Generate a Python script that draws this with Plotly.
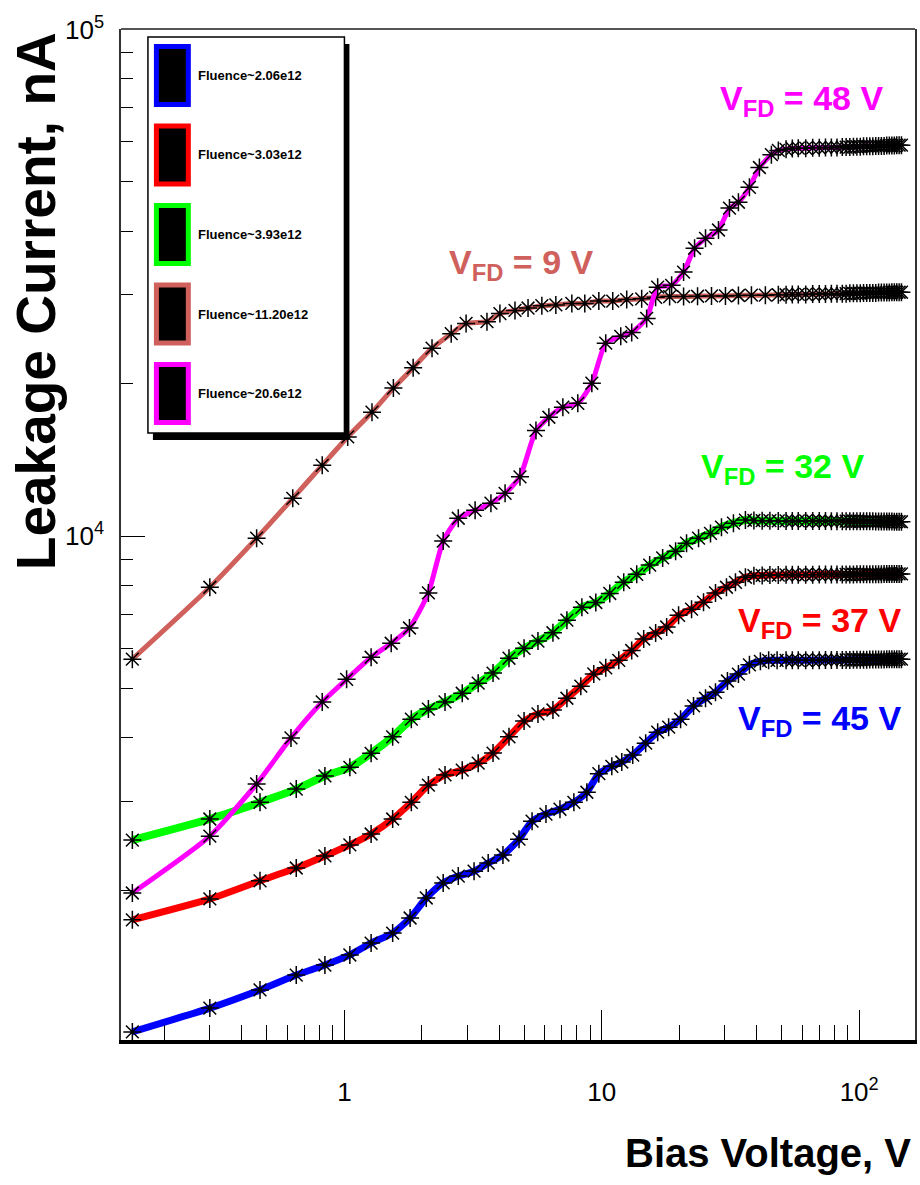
import plotly.graph_objects as go

# ---------------- data ----------------
SERIES_LABELS = ["Fluence~2.06e12", "Fluence~3.03e12", "Fluence~3.93e12",
                 "Fluence~11.20e12", "Fluence~20.6e12"]
SERIES_COLORS = ["#0000ff", "#ff0000", "#00ff00", "#d0605c", "#ff00ff"]
VFD_TEXT = ["V<sub>FD</sub> = 45 V", "V<sub>FD</sub> = 37 V", "V<sub>FD</sub> = 32 V",
            "V<sub>FD</sub> = 9 V", "V<sub>FD</sub> = 48 V"]

# Bias voltage (V) and leakage current (nA), rising part of each curve
V_206 = [0.15, 0.30, 0.47, 0.65, 0.84, 1.05, 1.27, 1.54, 1.80, 2.08, 2.42, 2.77, 3.19,
         3.62, 4.13, 4.77, 5.36, 6.07, 6.88, 7.79, 8.75, 9.74, 10.94, 11.96, 13.19,
         14.81, 16.49, 18.19, 20.24, 22.73, 25.30, 27.66, 30.78, 33.96, 37.47, 41.33,
         44.5, 48.0]
I_206 = [1052, 1172, 1273, 1362, 1425, 1492, 1575, 1648, 1765, 1933, 2070, 2135, 2183,
         2265, 2350, 2525, 2740, 2830, 2893, 2985, 3125, 3400, 3516, 3585, 3700,
         3905, 4105, 4200, 4355, 4625, 4790, 4920, 5180, 5345, 5575, 5665,
         5690, 5690]

V_303 = [0.15, 0.30, 0.47, 0.65, 0.84, 1.05, 1.27, 1.54, 1.82, 2.12, 2.46, 2.87, 3.31,
         3.78, 4.36, 4.99, 5.65, 6.46, 7.32, 8.29, 9.31, 10.36, 11.64, 13.07, 14.55,
         16.19, 17.87, 19.88, 22.33, 24.85, 27.66, 30.51, 33.07, 36.15, 39.0, 42.0,
         45.0, 48.5]
I_303 = [1750, 1925, 2090, 2215, 2340, 2460, 2585, 2767, 2985, 3228, 3381, 3455, 3566,
         3733, 4020, 4317, 4460, 4540, 4790, 5060, 5350, 5500, 5690, 5950, 6270,
         6440, 6620, 6980, 7180, 7410, 7730, 7930, 8110, 8300, 8360, 8370,
         8380, 8380]

V_393 = [0.15, 0.30, 0.47, 0.65, 0.84, 1.05, 1.27, 1.54, 1.82, 2.12, 2.46, 2.87, 3.31,
         3.78, 4.36, 4.99, 5.65, 6.46, 7.32, 8.37, 9.48, 10.74, 12.17, 13.67, 15.35,
         17.24, 19.36, 21.35, 23.77, 26.45, 29.18, 32.48, 36.15, 39.0, 42.0, 45.0, 48.5]
I_393 = [2515, 2767, 2985, 3170, 3365, 3500, 3730, 4020, 4355, 4560, 4710, 4900, 5130,
         5370, 5745, 6010, 6210, 6450, 6830, 7240, 7400, 7710, 8110, 8410, 8770,
         9060, 9340, 9690, 9910, 10130, 10420, 10610, 10760, 10740, 10730, 10730, 10720]

V_1120 = [0.15, 0.30, 0.456, 0.63, 0.82, 1.03, 1.28, 1.55, 1.85, 2.19, 2.60, 2.97, 3.58,
          4.02, 4.60, 5.17, 5.85, 6.63, 7.65, 8.59, 9.74, 11.03, 12.50, 14.29, 16.19,
          18.35, 20.79, 23.56, 26.69, 30.24, 33.96, 38.15, 43.22, 48.53]
I_1120 = [5720, 7930, 9910, 11880, 13800, 15700, 17570, 19600, 21500, 23500, 25100,
          26300, 26500, 27500, 27900, 28200, 28500, 28600, 28800, 28800, 29100, 29100,
          29300, 29400, 29600, 29700, 29700, 29750, 29800, 29800, 29850, 29900, 29900,
          29950]

V_206B = [0.15, 0.30, 0.456, 0.62, 0.82, 1.02, 1.27, 1.52, 1.79, 2.12, 2.42, 2.77, 3.22,
          3.71, 4.21, 4.81, 5.55, 6.23, 7.06, 8.07, 9.15, 10.36, 11.85, 13.07, 14.94,
          16.49, 18.68, 20.79, 22.94, 25.30, 28.41, 31.34, 33.96, 37.47, 40.97, 45.60,
          48.53]
I_206B = [1977, 2560, 3245, 4000, 4710, 5220, 5770, 6150, 6590, 7730, 9780, 10850,
          11250, 11620, 12150, 13100, 16170, 17170, 17970, 18290, 20040, 24040, 24800,
          25240, 26900, 31000, 31260, 33200, 37000, 38700, 40200, 44400, 45600, 48800,
          53400, 56600, 57700]

# Plateau (dense points above full depletion), shared voltage grid
PLATEAU_V = [52, 55, 58, 62, 66, 70, 74, 78, 82, 86, 89, 92, 95, 98, 101, 104, 107, 110,
             113, 116, 119, 122, 125, 128, 131, 134, 137, 140, 143, 146]
P_206 = [5690, 5690, 5690, 5695, 5695, 5695, 5700, 5700, 5700, 5700, 5700, 5700, 5705,
         5705, 5705, 5705, 5705, 5710, 5710, 5710, 5710, 5710, 5710, 5715, 5715, 5715,
         5715, 5720, 5720, 5720]
P_303 = [8390, 8390, 8390, 8395, 8395, 8400, 8400, 8400, 8400, 8405, 8405, 8405, 8405,
         8410, 8410, 8410, 8410, 8410, 8415, 8415, 8415, 8415, 8420, 8420, 8420, 8420,
         8420, 8425, 8425, 8425]
P_393 = [10720, 10720, 10720, 10720, 10715, 10715, 10715, 10710, 10710, 10710, 10710,
         10705, 10705, 10705, 10700, 10700, 10700, 10700, 10700, 10695, 10695, 10695,
         10690, 10690, 10690, 10690, 10685, 10685, 10685, 10680]
P_1120 = [29950, 30000, 30000, 30000, 30050, 30050, 30050, 30100, 30100, 30100, 30100,
          30150, 30150, 30150, 30150, 30200, 30200, 30200, 30200, 30200, 30250, 30250,
          30250, 30250, 30250, 30300, 30300, 30300, 30300, 30300]
P_206B = [58000, 58200, 58300, 58300, 58400, 58400, 58500, 58500, 58500, 58600, 58600,
          58600, 58700, 58700, 58700, 58800, 58800, 58800, 58800, 58900, 58900, 58900,
          58900, 59000, 59000, 59000, 59000, 59100, 59100, 59100]

X_TICKS = [1, 10, 100]
X_TICKTEXT = ["1", "10", "10<sup>2</sup>"]
Y_TICKS = [1e4, 1e5]
Y_TICKTEXT = ["10<sup>4</sup>", "10<sup>5</sup>"]

# ---------------- layout constants ----------------
W, H = 920, 1185
ML, MR, MT, MB = 121, 3, 29, 145
PW, PH = W - ML - MR, H - MT - MB
FONT = "Liberation Sans"


def fx(px):
    return (px - ML) / PW


def fy(py):
    return 1 - (py - MT) / PH


fig = go.Figure()

xs = [V_206, V_303, V_393, V_1120, V_206B]
ys = [I_206, I_303, I_393, I_1120, I_206B]
ps = [P_206, P_303, P_393, P_1120, P_206B]
widths = [7, 7, 8, 5, 5]
for v, i, p, c, w in zip(xs, ys, ps, SERIES_COLORS, widths):
    fig.add_trace(go.Scatter(
        x=v + PLATEAU_V, y=i + p, mode="lines+markers",
        line=dict(color=c, width=w, shape="spline", smoothing=0.6),
        marker=dict(symbol="asterisk-open", size=15, color="black",
                    line=dict(color="black", width=1.5)),
        showlegend=False, hoverinfo="x+y"))

minor_x = [m * 10 ** e for e in range(-1, 3) for m in range(2, 10)]
minor_y = [m * 10 ** e for e in range(3, 5) for m in range(2, 10)]

fig.update_xaxes(type="log", range=[-0.868, 2.217], tickmode="array",
                 tickvals=X_TICKS, ticktext=X_TICKTEXT, ticks="inside", ticklen=30,
                 tickwidth=1.2, tickcolor="black", showgrid=False, zeroline=False,
                 showline=True, linecolor="black", linewidth=4, mirror=False,
                 ticklabelstandoff=26,
                 tickfont=dict(family=FONT, size=26, color="black"),
                 minor=dict(tickmode="array", tickvals=minor_x, ticks="inside",
                            ticklen=15, tickwidth=1.2, tickcolor="black", showgrid=False))
fig.update_yaxes(type="log", range=[3.006, 5.0008], tickmode="array",
                 tickvals=Y_TICKS, ticktext=Y_TICKTEXT, ticks="inside", ticklen=24,
                 tickwidth=1.2, tickcolor="black", showgrid=False, zeroline=False,
                 showline=True, linecolor="#333333", linewidth=1.5, mirror=True,
                 ticklabelstandoff=10,
                 tickfont=dict(family=FONT, size=26, color="black"),
                 minor=dict(tickmode="array", tickvals=minor_y, ticks="inside",
                            ticklen=12, tickwidth=1.2, tickcolor="black", showgrid=False))

shapes = []
annotations = []
# top frame line
shapes.append(dict(type="line", xref="paper", yref="paper", x0=0, x1=1, y0=1, y1=1,
                   line=dict(color="#555555", width=2), layer="above"))

# legend (ROOT style box with shadow)
L_X0, L_X1, L_Y0, L_Y1 = 148, 345, 37, 433
SHADOW_DX, SHADOW_DY = 5, 7
shapes.append(dict(type="rect", xref="paper", yref="paper",
                   x0=fx(L_X0 + SHADOW_DX), x1=fx(L_X1 + SHADOW_DX),
                   y0=fy(L_Y1 + SHADOW_DY), y1=fy(L_Y0 + SHADOW_DY),
                   fillcolor="black", line=dict(width=0), layer="above"))
shapes.append(dict(type="rect", xref="paper", yref="paper",
                   x0=fx(L_X0), x1=fx(L_X1), y0=fy(L_Y1), y1=fy(L_Y0),
                   fillcolor="white", line=dict(color="black", width=1.5), layer="above"))
SW_X0, SW_X1, SW_TOP, SW_H, SW_STEP = 156.5, 188.5, 46.5, 58, 79.5
for k, (lab, col) in enumerate(zip(SERIES_LABELS, SERIES_COLORS)):
    top = SW_TOP + k * SW_STEP
    shapes.append(dict(type="rect", xref="paper", yref="paper",
                       x0=fx(SW_X0), x1=fx(SW_X1), y0=fy(top + SW_H), y1=fy(top),
                       fillcolor="black", line=dict(color=col, width=5), layer="above"))
    annotations.append(dict(text=lab, xref="paper", yref="paper", x=fx(196),
                            y=fy(top + SW_H / 2), xanchor="left", yanchor="middle",
                            showarrow=False,
                            font=dict(family=FONT, size=13, color="black", weight="bold")))

# V_FD labels: (right edge px, vertical centre px)
VFD_POS = [(905, 720), (905, 622), (868, 468), (597, 264), (887, 100)]
for txt, col, (rx, cy) in zip(VFD_TEXT, SERIES_COLORS, VFD_POS):
    annotations.append(dict(text=txt, xref="paper", yref="paper", x=fx(rx), y=fy(cy),
                            xanchor="right", yanchor="middle", showarrow=False,
                            font=dict(family=FONT, size=34, color=col, weight="bold")))

# axis titles (ROOT style, aligned at axis end)
annotations.append(dict(text="Leakage Current, nA", xref="paper", yref="paper",
                        x=fx(36), y=fy(30), xanchor="center", yanchor="top",
                        textangle=-90, showarrow=False,
                        font=dict(family=FONT, size=55, color="black", weight="bold")))
annotations.append(dict(text="Bias Voltage, V", xref="paper", yref="paper",
                        x=fx(915), y=fy(1153), xanchor="right", yanchor="middle",
                        showarrow=False,
                        font=dict(family=FONT, size=40, color="black", weight="bold")))

fig.update_layout(width=W, height=H, margin=dict(l=ML, r=MR, t=MT, b=MB),
                  paper_bgcolor="white", plot_bgcolor="white", showlegend=False,
                  shapes=shapes, annotations=annotations)

fig.write_html("out.html")
